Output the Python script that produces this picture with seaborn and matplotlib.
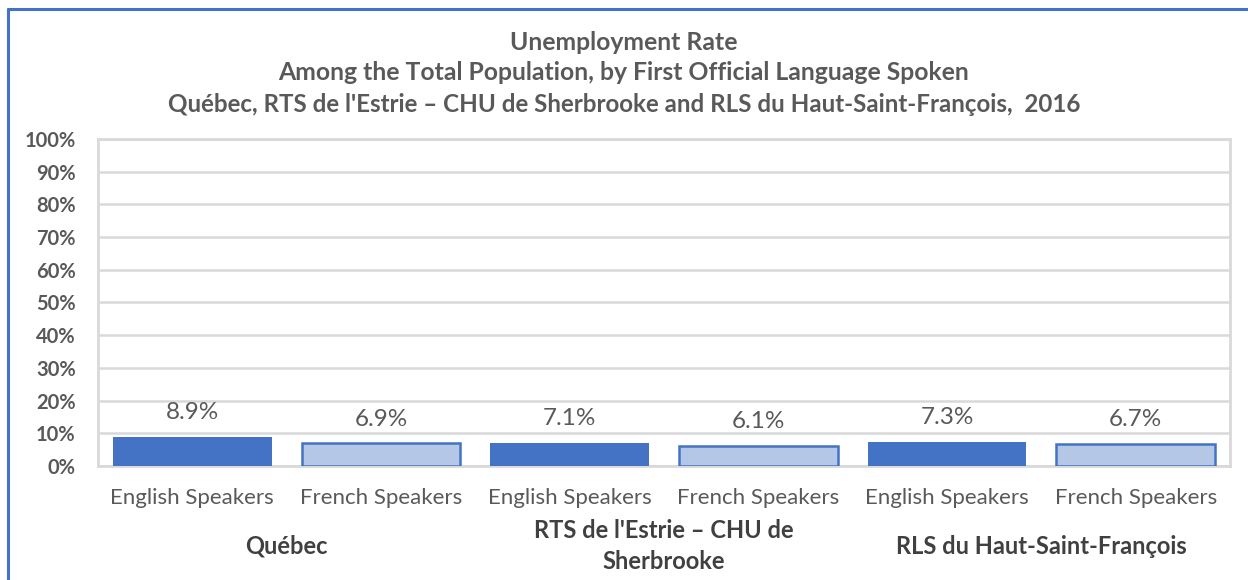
import pandas as pd
import numpy as np
import matplotlib.pyplot as plt
import seaborn as sns
from matplotlib.ticker import MultipleLocator, PercentFormatter

regions = ["Québec", "Québec",
           "RTS de l'Estrie – CHU de\nSherbrooke", "RTS de l'Estrie – CHU de\nSherbrooke",
           "RLS du Haut-Saint-François", "RLS du Haut-Saint-François"]
speakers = ["English Speakers", "French Speakers"] * 3
rates = [8.9, 6.9, 7.1, 6.1, 7.3, 6.7]

df = pd.DataFrame({"region": regions, "lang": speakers, "rate": rates})
df["key"] = [f"{r}|{s}" for r, s in zip(regions, speakers)]

sns.set_style("white")
plt.rcParams["font.family"] = ["Lato", "DejaVu Sans"]
gray = "#595959"

fig = plt.figure(figsize=(12.48, 5.8), dpi=100)
ax = fig.add_axes([0.0785, 0.1966, 0.9071, 0.5637])

colors = {"English Speakers": "#4472C4", "French Speakers": "#B4C7E7"}
sns.barplot(data=df, x="key", y="rate", hue="lang", palette=colors, saturation=1,
            dodge=False, width=0.84, legend=False, ax=ax, zorder=3)

# light bars get a blue outline
for cont, lang in zip(ax.containers, ["English Speakers", "French Speakers"]):
    for p in cont:
        p.set_edgecolor("#4472C4")
        p.set_linewidth(1.8 if lang == "French Speakers" else 0)

for i, v in enumerate(rates):
    ax.annotate(f"{v:.1f}%", (i, v), xytext=(0, 10), textcoords="offset points",
                ha="center", va="bottom", fontsize=17.5, color=gray)

ax.set_ylim(0, 100)
ax.set_xlim(-0.5, 5.5)
ax.yaxis.set_major_locator(MultipleLocator(10))
ax.yaxis.set_major_formatter(PercentFormatter(decimals=0))
ax.grid(axis="y", color="#D9D9D9", linewidth=1.8, zorder=0)
for s in ax.spines.values():
    s.set_color("#D9D9D9")
    s.set_linewidth(2)

ax.set_xticks(range(6))
ax.set_xticklabels(speakers, fontsize=16, color=gray)
ax.tick_params(axis="x", length=0, pad=16)
ax.tick_params(axis="y", length=0, pad=16, labelsize=14.5, labelcolor=gray)
for t in ax.get_yticklabels():
    t.set_fontweight("bold")
ax.set_xlabel("")
ax.set_ylabel("")

trans = ax.get_xaxis_transform()
for j in range(3):
    ax.text(2 * j + 0.5, -0.245, regions[2 * j], transform=trans, ha="center", va="center",
            fontsize=17, fontweight="bold", color="#404040", linespacing=1.4)

fig.text(0.5, 1 - 42 / 580, "Unemployment Rate", ha="center", va="center",
         fontsize=17.8, fontweight="bold", color=gray)
fig.text(0.5, 1 - 73 / 580, "Among the Total Population, by First Official Language Spoken",
         ha="center", va="center", fontsize=17.8, fontweight="bold", color=gray)
fig.text(0.5, 1 - 104 / 580,
         "Québec, RTS de l'Estrie – CHU de Sherbrooke and RLS du Haut-Saint-François,  2016",
         ha="center", va="center", fontsize=17.4, fontweight="bold", color=gray)

# outer blue frame (left and top visible)
fig.add_artist(plt.Line2D([8 / 1248, 8 / 1248], [0, 1 - 9 / 580], color="#4472C4", linewidth=2.2))
fig.add_artist(plt.Line2D([8 / 1248, 1], [1 - 9 / 580, 1 - 9 / 580], color="#4472C4", linewidth=2.2))

fig.savefig("out.png", dpi=100, facecolor="white")
